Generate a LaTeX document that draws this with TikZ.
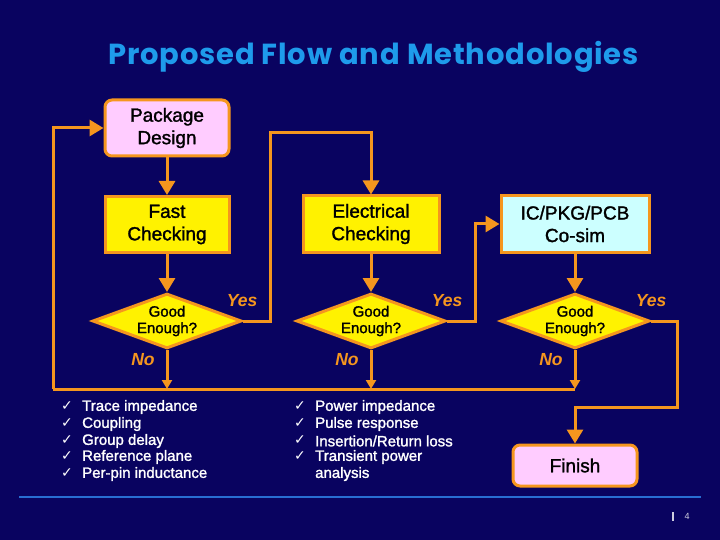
\documentclass[tikz,border=0pt]{standalone}
\usepackage{fontspec}
\setmainfont{Liberation Sans}
\newfontfamily\checkfont{DejaVu Sans}
\newfontfamily\titlefont[LetterSpace=2.9]{Poppins}
\newfontfamily\heavyfont[RawFeature={embolden=1.5}]{Liberation Sans}
\usetikzlibrary{shapes,positioning,calc,arrows.meta}
\definecolor{navybg}{RGB}{9,3,96}
\definecolor{flowline}{RGB}{245,150,30}
\definecolor{pinkbox}{RGB}{255,204,255}
\definecolor{cyanbox}{RGB}{204,255,255}
\definecolor{titleblue}{RGB}{30,155,235}
\definecolor{sepblue}{RGB}{40,110,210}
\tikzset{
    flowbox/.style={draw=flowline,line width=3pt,fill=yellow,align=center,inner sep=0pt,
        font=\heavyfont\fontsize{19}{22.5}\selectfont,text=black},
    startbox/.style={flowbox,rounded corners=7pt,fill=pinkbox},
    decision/.style={diamond,aspect=2.6,draw=flowline,line width=3pt,fill=yellow,align=center,inner sep=0pt,
        minimum width=149pt,minimum height=55pt,font=\heavyfont\fontsize{15}{16.5}\selectfont,text=black},
    flow/.style={draw=flowline,line width=3pt,-{Triangle[length=14pt,width=16pt]}},
    flowsmall/.style={draw=flowline,line width=3pt,-{Triangle[length=9pt,width=10pt]}},
    plainflow/.style={draw=flowline,line width=3pt},
    answer/.style={text=flowline,font=\fontsize{17.5}{20}\selectfont\bfseries\itshape},
    bullet/.style={text=white,anchor=west,inner sep=0pt,font=\heavyfont\fontsize{15}{16}\selectfont},
    tick/.style={text=white,anchor=west,inner sep=0pt,font=\checkfont\fontsize{14}{16}\selectfont},
}
\begin{document}
\begin{tikzpicture}[x=1pt,y=-1pt]
    \fill[navybg] (0,0) rectangle (720,540);
    \useasboundingbox (0,0) rectangle (720,540);
    \node[text=titleblue,font=\titlefont\bfseries\fontsize{29}{34}\selectfont] (title) at (373.5,57) {Proposed Flow and Methodologies};

    % Left column
    \node[startbox,minimum width=124pt,minimum height=56pt] (package) at (167,128) {Package\\Design};
    \node[flowbox,minimum width=124pt,minimum height=56pt] (fast) at (167,224.5) {Fast\\Checking};
    \node[decision] (good1) at (167,321) {Good\\Enough?};

    % Middle column
    \node[flowbox,minimum width=136pt,minimum height=56pt] (elec) at (371,224) {Electrical\\Checking};
    \node[decision] (good2) at (371,321) {Good\\Enough?};

    % Right column
    \node[flowbox,fill=cyanbox,minimum width=148pt,minimum height=56pt] (cosim) at (575,224) {IC/PKG/PCB\\Co-sim};
    \node[decision] (good3) at (575,321) {Good\\Enough?};
    \node[startbox,minimum width=124pt,minimum height=41pt] (finish) at (575,465.5) {Finish};

    % Bends
    \coordinate (up1) at (270,133);
    \coordinate (back) at (53,128);
    \coordinate (bus) at (53,389);
    \coordinate (busend) at (575,389);
    \coordinate (stub3) at (677,407);

    % Connectors
    \draw[flow] (package) -- (fast);
    \draw[flow] (fast) -- (good1);
    \draw[flow] (elec) -- (good2);
    \draw[flow] (cosim) -- (good3);
    \draw[flow] (good1.east) -| (up1) -| (elec.north);
    \draw[flow] (good2.east) -- ++(28,0) |- (cosim.west);
    \draw[flow] (good3.east) -| (stub3) -| (finish.north);
    \draw[flow] (bus) -- (back) -- (package.west);
    \draw[plainflow] (bus) -- (busend);
    \draw[flowsmall] (good1.south) -- (good1.south |- bus);
    \draw[flowsmall] (good2.south) -- (good2.south |- bus);
    \draw[flowsmall] (good3.south) -- (good3.south |- bus);

    % Yes and No
    \node[answer] (yes1) at (242,301) {Yes};
    \node[answer] (yes2) at (447,301) {Yes};
    \node[answer] (yes3) at (651,301) {Yes};
    \node[answer] (no1) at (143,360) {No};
    \node[answer] (no2) at (347,360) {No};
    \node[answer] (no3) at (551,360) {No};

    % Left list
    \foreach \y/\txt in {407/Trace impedance,424/Coupling,441/Group delay,457/Reference plane,474/Per-pin inductance}{
        \node[tick] (tickl\y) at (61,\y-1) {✓};
        \node[bullet] (listl\y) at (82,\y) {\txt};
    }

    % Right list
    \foreach \y/\txt in {407/Power impedance,424/Pulse response,441/{Insertion/Return loss},457/Transient power}{
        \node[tick] (tickr\y) at (294,\y-1) {✓};
        \node[bullet] (listr\y) at (315,\y) {\txt};
    }
    \node[bullet] (listr474) at (315,474) {analysis};

    % Footer
    \coordinate (rulel) at (19,497);
    \coordinate (ruler) at (701,497);
    \draw[sepblue,line width=1.2pt] (rulel) -- (ruler);
    \coordinate (bart) at (673,512);
    \coordinate (barb) at (673,521);
    \draw[white!80!navybg,line width=1.2pt] (bart) -- (barb);
    \node[text=white!80!navybg,font=\fontsize{9}{10}\selectfont] (pagenum) at (687,516) {4};
\end{tikzpicture}
\end{document}
